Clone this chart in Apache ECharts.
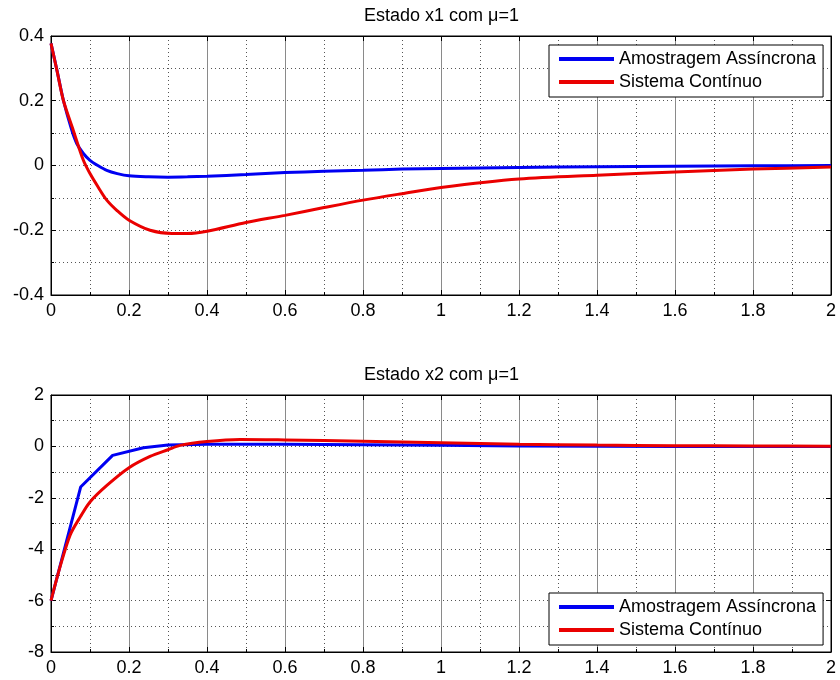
<!DOCTYPE html>
<html>
<head>
<meta charset="utf-8">
<script src="https://cdn.jsdelivr.net/npm/echarts@6/dist/echarts.min.js"></script>
<style>html,body{margin:0;padding:0;background:#fff}#c{width:840px;height:680px}</style>
</head>
<body>
<div id="c"></div>
<script>
// ---- data ----
var seriesNames = ['Amostragem Assíncrona', 'Sistema Contínuo'];
var titles = ['Estado x1 com \u03bc=1', 'Estado x2 com \u03bc=1'];

// Top plot: state x1
var t1Async = [0, 0.016, 0.032, 0.053, 0.066, 0.083, 0.1, 0.12, 0.143, 0.17, 0.2, 0.25, 0.3, 0.35, 0.4, 0.5, 0.6, 0.7, 0.8, 0.9, 1.0, 1.2, 1.4, 1.6, 1.8, 2.0];
var x1Async = [0.377, 0.29, 0.2, 0.11, 0.068, 0.037, 0.016, 0.0, -0.015, -0.025, -0.032, -0.035, -0.036, -0.035, -0.033, -0.028, -0.022, -0.018, -0.015, -0.011, -0.009, -0.006, -0.004, -0.002, -0.001, 0.0];
var t1Cont = [0, 0.015, 0.032, 0.057, 0.083, 0.1, 0.12, 0.143, 0.17, 0.2, 0.254, 0.31, 0.35, 0.4, 0.5, 0.6, 0.7, 0.8, 0.9, 1.0, 1.2, 1.4, 1.6, 1.8, 2.0];
var x1Cont = [0.377, 0.295, 0.2, 0.109, 0.016, -0.025, -0.065, -0.107, -0.14, -0.169, -0.2, -0.21, -0.21, -0.203, -0.176, -0.154, -0.13, -0.107, -0.087, -0.068, -0.042, -0.03, -0.02, -0.011, -0.005];

// Bottom plot: state x2
var t2Async = [0, 0.076, 0.158, 0.237, 0.3, 0.4, 0.5, 0.6, 0.8, 1.0, 1.2, 1.4, 1.6, 2.0];
var x2Async = [-6.0, -1.58, -0.35, -0.05, 0.05, 0.08, 0.08, 0.08, 0.06, 0.04, 0.02, 0.01, 0.0, 0.0];
var t2Cont = [0, 0.023, 0.049, 0.076, 0.1, 0.144, 0.2, 0.254, 0.3, 0.331, 0.4, 0.485, 0.6, 0.8, 1.0, 1.2, 1.4, 1.6, 1.8, 2.0];
var x2Cont = [-6.0, -4.7, -3.45, -2.72, -2.16, -1.51, -0.83, -0.39, -0.13, 0.04, 0.19, 0.27, 0.25, 0.2, 0.14, 0.08, 0.05, 0.03, 0.02, 0.01];

// axis ranges
var xRange = [0, 2, 0.2];
var y1Range = [-0.4, 0.4, 0.2];
var y2Range = [-8, 2, 2];

function pairs(t, v) { return t.map(function (x, i) { return [x, v[i]]; }); }

var FONT = 'Liberation Sans, Arial, sans-serif';
var BLUE = '#0000f2';
var RED = '#ea0000';

var grids = [
  { left: 51, top: 36, width: 780, height: 259, show: true, borderColor: '#000', borderWidth: 1 },
  { left: 51, top: 395, width: 780, height: 257, show: true, borderColor: '#000', borderWidth: 1 }
];

function xAx(gi, pos) {
  var main = pos === 'bottom';
  return {
    type: 'value', gridIndex: gi, position: pos, min: xRange[0], max: xRange[1], interval: xRange[2],
    axisLine: { show: true, onZero: false, lineStyle: { color: '#000', width: 1 } },
    axisTick: { show: true, inside: true, length: 5, lineStyle: { color: '#000' } },
    axisLabel: { show: main, color: '#000', fontSize: 18, fontFamily: FONT, margin: 7 },
    splitLine: { show: main, lineStyle: { color: '#8a8a8a', width: 1, type: 'solid' } },
    minorTick: { show: main, splitNumber: 2, length: 3, lineStyle: { color: '#000' } },
    minorSplitLine: { show: main, lineStyle: { color: '#555', width: 1, type: [1, 3] } }
  };
}
function yAx(gi, pos, r) {
  var main = pos === 'left';
  return {
    type: 'value', gridIndex: gi, position: pos, min: r[0], max: r[1], interval: r[2],
    axisLine: { show: true, onZero: false, lineStyle: { color: '#000', width: 1 } },
    axisTick: { show: true, inside: true, length: 5, lineStyle: { color: '#000' } },
    axisLabel: { show: main, color: '#000', fontSize: 18, fontFamily: FONT, margin: 7 },
    splitLine: { show: main, lineStyle: { color: '#555', width: 1, type: [1, 3] } },
    minorTick: { show: main, splitNumber: 2, length: 3, lineStyle: { color: '#000' } },
    minorSplitLine: { show: main, lineStyle: { color: '#555', width: 1, type: [1, 3] } }
  };
}

function legendFor(top) {
  return {
    orient: 'vertical', left: 549, top: top,
    data: seriesNames,
    icon: 'rect', itemWidth: 55, itemHeight: 4, itemGap: 3,
    backgroundColor: '#fff', borderColor: '#000', borderWidth: 1, borderRadius: 0,
    padding: [4, 7, 5, 10],
    textStyle: { color: '#000', fontSize: 18, fontFamily: FONT, lineHeight: 20 },
    selectedMode: false
  };
}

function lineSeries(name, gi, xi, yi, t, v, color, smooth) {
  return {
    name: name, type: 'line', xAxisIndex: xi, yAxisIndex: yi,
    data: pairs(t, v), showSymbol: false, symbol: 'none', smooth: smooth,
    lineStyle: { color: color, width: 3 }, itemStyle: { color: color },
    animation: false
  };
}

var option = {
  animation: false,
  backgroundColor: '#fff',
  title: [
    { text: titles[0], left: 364, top: 7, padding: 0, textStyle: { color: '#000', fontSize: 18, fontWeight: 'normal', fontFamily: FONT } },
    { text: titles[1], left: 364, top: 366, padding: 0, textStyle: { color: '#000', fontSize: 18, fontWeight: 'normal', fontFamily: FONT } }
  ],
  legend: [legendFor(45), legendFor(593)],
  grid: grids,
  xAxis: [xAx(0, 'bottom'), xAx(0, 'top'), xAx(1, 'bottom'), xAx(1, 'top')],
  yAxis: [yAx(0, 'left', y1Range), yAx(0, 'right', y1Range), yAx(1, 'left', y2Range), yAx(1, 'right', y2Range)],
  series: [
    lineSeries(seriesNames[0], 0, 0, 0, t1Async, x1Async, BLUE, 0.3),
    lineSeries(seriesNames[1], 0, 0, 0, t1Cont, x1Cont, RED, 0.3),
    lineSeries(seriesNames[0], 1, 2, 2, t2Async, x2Async, BLUE, false),
    lineSeries(seriesNames[1], 1, 2, 2, t2Cont, x2Cont, RED, 0.3)
  ]
};

var chart = echarts.init(document.getElementById('c'), null, { renderer: 'canvas' });
chart.setOption(option);
</script>
</body>
</html>
